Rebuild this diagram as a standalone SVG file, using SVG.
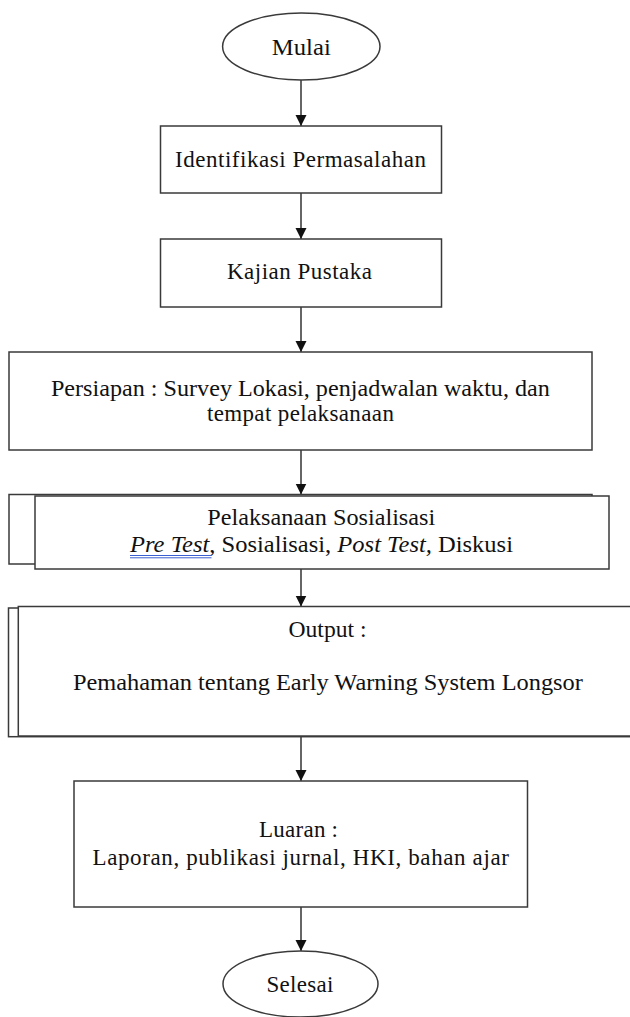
<svg xmlns="http://www.w3.org/2000/svg" width="630" height="1017" viewBox="0 0 630 1017">
<defs>
<marker id="ah" markerWidth="12" markerHeight="12" refX="11" refY="6" orient="auto" markerUnits="userSpaceOnUse">
<path d="M0,0.5 L11,6 L0,11.5 Z" fill="#111"/>
</marker>
<style>
.s{fill:#fff;stroke:#3a3a3a;stroke-width:1.5}
.t{font-family:'Liberation Serif','Times New Roman',serif;font-size:23px;fill:#111;text-anchor:middle}
.c{stroke:#333;stroke-width:1.5;fill:none;marker-end:url(#ah)}
.u{stroke:#3a5fd0;stroke-width:1}
</style>
</defs>
<rect width="630" height="1017" fill="#fff"/>
<g id="connectors">
<line class="c" x1="301" y1="80" x2="301" y2="126"/>
<line class="c" x1="301" y1="193" x2="301" y2="239"/>
<line class="c" x1="301" y1="307" x2="301" y2="352"/>
<line class="c" x1="301" y1="450" x2="301" y2="494.5"/>
<line class="c" x1="301" y1="569" x2="301" y2="606.5"/>
<line class="c" x1="301" y1="736" x2="301" y2="781"/>
<line class="c" x1="301" y1="907" x2="301" y2="951"/>
</g>
<g id="mulai">
<ellipse class="s" cx="301.3" cy="46.5" rx="78.7" ry="33.5"/>
<text class="t" x="301.3" y="55" textLength="59" lengthAdjust="spacingAndGlyphs">Mulai</text>
</g>
<g id="identifikasi">
<rect class="s" x="160.5" y="126" width="281" height="67"/>
<text class="t" x="300.5" y="167.3" textLength="251" lengthAdjust="spacing">Identifikasi Permasalahan</text>
</g>
<g id="kajian">
<rect class="s" x="160.5" y="239" width="281" height="68"/>
<text class="t" x="299.5" y="278.5" textLength="145" lengthAdjust="spacing">Kajian Pustaka</text>
</g>
<g id="persiapan">
<rect class="s" x="9" y="352" width="583" height="98"/>
<text class="t" x="300.4" y="395.5" textLength="499" lengthAdjust="spacingAndGlyphs">Persiapan : Survey Lokasi, penjadwalan waktu, dan</text>
<text class="t" x="300.4" y="421" textLength="187" lengthAdjust="spacing">tempat pelaksanaan</text>
</g>
<g id="pelaksanaan">
<rect class="s" x="9" y="494.5" width="583" height="69.5"/>
<rect class="s" x="35" y="496" width="574" height="73"/>
<text class="t" x="321.2" y="525" textLength="228" lengthAdjust="spacingAndGlyphs">Pelaksanaan Sosialisasi</text>
<text class="t" x="321.5" y="551.5" textLength="383" lengthAdjust="spacingAndGlyphs"><tspan font-style="italic">Pre Test</tspan>, Sosialisasi, <tspan font-style="italic">Post Test,</tspan> Diskusi</text>
<line class="u" x1="130" y1="555.5" x2="211.5" y2="555.5"/>
<line class="u" x1="130" y1="557.8" x2="211.5" y2="557.8"/>
</g>
<g id="output">
<rect class="s" x="8.5" y="608" width="640" height="128.7"/>
<rect class="s" x="18.3" y="606.5" width="640" height="129.5"/>
<text class="t" x="327.5" y="636.7" textLength="78" lengthAdjust="spacingAndGlyphs">Output :</text>
<text class="t" x="327.9" y="690" textLength="510" lengthAdjust="spacingAndGlyphs">Pemahaman tentang Early Warning System Longsor</text>
</g>
<g id="luaran">
<rect class="s" x="74" y="781" width="453.5" height="126"/>
<text class="t" x="298.5" y="837" textLength="79" lengthAdjust="spacing">Luaran :</text>
<text class="t" x="300.7" y="864.5" textLength="416.5" lengthAdjust="spacing">Laporan, publikasi  jurnal, HKI, bahan ajar</text>
</g>
<g id="selesai">
<ellipse class="s" cx="300.5" cy="984" rx="77.5" ry="33"/>
<text class="t" x="300" y="992" textLength="67" lengthAdjust="spacing">Selesai</text>
</g>
</svg>
